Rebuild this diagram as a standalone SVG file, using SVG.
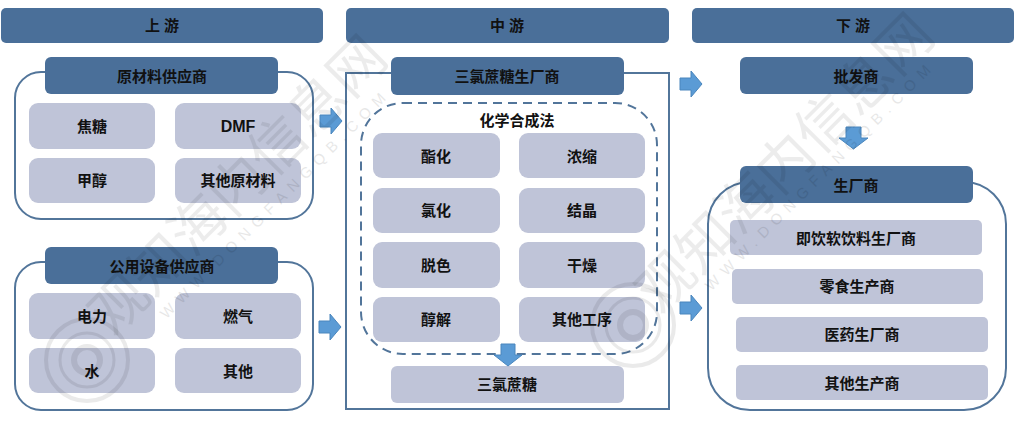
<svg xmlns="http://www.w3.org/2000/svg" width="1019" height="422" viewBox="0 0 1019 422">
<style>
text{font-family:"Liberation Sans","Noto Sans CJK SC",sans-serif;font-size:15px;font-weight:700;fill:#111;text-anchor:middle;dominant-baseline:central}
.head{fill:#4a6f99}
.item{fill:#bfc4d8}
.frame{fill:#fff;stroke:#52759a;stroke-width:2}
.dash{fill:none;stroke:#52759a;stroke-width:2;stroke-dasharray:9 6}
.arrow{fill:#5b9bd5;stroke:#4a86bd;stroke-width:1}
.wm{fill:#000;opacity:.07;font-size:56px;font-weight:400}
.wms{fill:#000;opacity:.09;font-size:15px;font-weight:400;letter-spacing:7px}
.wc{fill:none;stroke:#000;opacity:.08}
</style>
<rect width="1019" height="422" fill="#fff"/>
<g id="frames">
<rect class="frame" x="15" y="72" width="298" height="147" rx="26"/>
<rect class="frame" x="15" y="262" width="298" height="148" rx="26"/>
<rect class="frame" x="346" y="73" width="323" height="336"/>
<rect class="dash" x="361" y="103" width="296" height="251" rx="42"/>
<rect class="frame" x="708" y="182" width="298" height="228" rx="42"/>
</g>
<g id="stage-up"><rect class="head" x="1" y="8" width="322" height="35" rx="5"/><text x="162" y="25">上 游</text></g>
<g id="stage-mid"><rect class="head" x="346" y="8" width="323" height="35" rx="5"/><text x="507" y="25">中 游</text></g>
<g id="stage-down"><rect class="head" x="692" y="8" width="322" height="35" rx="5"/><text x="853" y="25">下 游</text></g>
<g id="n-raw"><rect class="head" x="45" y="57" width="233" height="37" rx="6"/><text x="162" y="76">原材料供应商</text></g>
<g id="n-jiaotang"><rect class="item" x="29" y="103" width="126" height="46" rx="9"/><text x="92" y="126">焦糖</text></g>
<g id="n-dmf"><rect class="item" x="175" y="103" width="126" height="46" rx="9"/><text x="238" y="126" style="font-size:16px">DMF</text></g>
<g id="n-jiachun"><rect class="item" x="29" y="158" width="126" height="45" rx="9"/><text x="92" y="180">甲醇</text></g>
<g id="n-otherraw"><rect class="item" x="175" y="158" width="126" height="45" rx="9"/><text x="238" y="180">其他原材料</text></g>
<g id="n-util"><rect class="head" x="45" y="247" width="233" height="37" rx="6"/><text x="162" y="266">公用设备供应商</text></g>
<g id="n-power"><rect class="item" x="29" y="293" width="126" height="46" rx="9"/><text x="92" y="316">电力</text></g>
<g id="n-gas"><rect class="item" x="175" y="293" width="126" height="46" rx="9"/><text x="238" y="316">燃气</text></g>
<g id="n-water"><rect class="item" x="29" y="348" width="126" height="45" rx="9"/><text x="92" y="371">水</text></g>
<g id="n-other"><rect class="item" x="175" y="348" width="126" height="45" rx="9"/><text x="238" y="371">其他</text></g>
<g id="n-maker"><rect class="head" x="391" y="57" width="233" height="38" rx="6"/><text x="507" y="76">三氯蔗糖生厂商</text></g>
<g id="n-method"><text x="517" y="120">化学合成法</text></g>
<g id="n-a1"><rect class="item" x="373" y="133" width="127" height="45" rx="9"/><text x="436" y="156">酯化</text></g>
<g id="n-b1"><rect class="item" x="519" y="133" width="126" height="45" rx="9"/><text x="582" y="156">浓缩</text></g>
<g id="n-a2"><rect class="item" x="373" y="188" width="127" height="45" rx="9"/><text x="436" y="210">氯化</text></g>
<g id="n-b2"><rect class="item" x="519" y="188" width="126" height="45" rx="9"/><text x="582" y="210">结晶</text></g>
<g id="n-a3"><rect class="item" x="373" y="242" width="127" height="46" rx="9"/><text x="436" y="265">脱色</text></g>
<g id="n-b3"><rect class="item" x="519" y="242" width="126" height="46" rx="9"/><text x="582" y="265">干燥</text></g>
<g id="n-a4"><rect class="item" x="373" y="297" width="127" height="45" rx="9"/><text x="436" y="319">醇解</text></g>
<g id="n-b4"><rect class="item" x="519" y="297" width="126" height="45" rx="9"/><text x="582" y="319">其他工序</text></g>
<g id="n-product"><rect class="item" x="391" y="366" width="233" height="37" rx="6"/><text x="507" y="384">三氯蔗糖</text></g>
<g id="n-whole"><rect class="head" x="740" y="57" width="233" height="37" rx="6"/><text x="856" y="76">批发商</text></g>
<g id="n-prod"><rect class="head" x="740" y="166" width="233" height="37" rx="6"/><text x="856" y="185">生厂商</text></g>
<g id="n-d1"><rect class="item" x="730" y="220" width="252" height="35" rx="5"/><text x="856" y="238">即饮软饮料生厂商</text></g>
<g id="n-d2"><rect class="item" x="732" y="269" width="251" height="35" rx="5"/><text x="857" y="286">零食生产商</text></g>
<g id="n-d3"><rect class="item" x="736" y="317" width="252" height="35" rx="5"/><text x="862" y="334">医药生厂商</text></g>
<g id="n-d4"><rect class="item" x="736" y="365" width="252" height="35" rx="5"/><text x="862" y="383">其他生产商</text></g>
<g id="connectors">
<path class="arrow" d="M320 115h11v-7l11 13-11 13v-7h-11z"/>
<path class="arrow" d="M319 321h11v-7l11 13-11 13v-7h-11z"/>
<path class="arrow" d="M680 78h11v-7l11 13-11 13v-7h-11z"/>
<path class="arrow" d="M680 302h11v-7l11 13-11 13v-7h-11z"/>
<path class="arrow" d="M846 127h15v11h7l-14.500 11-14.500-11h7z"/>
<path class="arrow" d="M501 344h14v11h7l-14 11-14-11h7z"/>
</g>
<g id="watermark">
<text class="wm" transform="translate(238 185) rotate(-45)">观知海内信息网</text>
<text class="wm" transform="translate(785 163) rotate(-45)">观知海内信息网</text>
<text class="wms" transform="translate(275 203) rotate(-45)">WWW.DONGFANGQB.COM</text>
<text class="wms" transform="translate(820 175) rotate(-45)">WWW.DONGFANGQB.COM</text>
<g class="wc" stroke-width="3"><circle cx="87" cy="360" r="41" stroke-width="4"/><circle cx="87" cy="360" r="27"/><circle cx="87" cy="360" r="13" stroke-width="6"/></g>
<g class="wc" stroke-width="3"><circle cx="633" cy="325" r="41" stroke-width="4"/><circle cx="633" cy="325" r="27"/><circle cx="633" cy="325" r="13" stroke-width="6"/></g>
</g>
</svg>
